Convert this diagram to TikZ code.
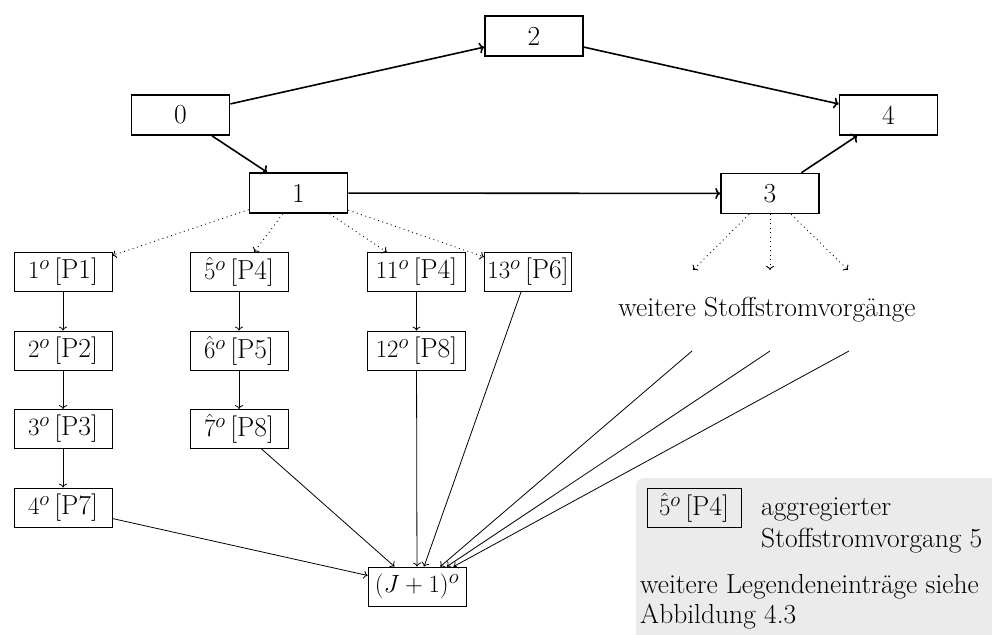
\documentclass[tikz,border=0pt]{standalone}
\usetikzlibrary{arrows.meta}
% label of a partial process: number with superscript o and its process tag
\newcommand\stoff[2]{$#1^{o}$\,[#2]}
\begin{document}
\begin{tikzpicture}[x=1pt,y=-1pt,
  every node/.style={font=\fontsize{27.5}{32}\selectfont},
  vorgang/.style={draw, line width=1.6pt, minimum width=98pt, minimum height=40pt, inner sep=2pt},
  teil/.style={draw, line width=0.8pt, minimum width=98pt, minimum height=39pt, inner sep=3pt},
  fluss/.style={line width=1.6pt, -{To[length=5pt,width=11pt]}},
  zweig/.style={line width=0.8pt, -{To[length=4pt,width=8pt]}},
  punkt/.style={line width=0.9pt, dash pattern=on 0.9pt off 3.6pt, -{To[length=4pt,width=8pt]}},
  legtext/.style={anchor=base west, inner sep=0pt},
]
\useasboundingbox (0,0) rectangle (992,634);

% legend background
\fill[black!8, rounded corners=8pt] (636,478) rectangle (1010,650);

% main processes
\node[vorgang] (n0) at (180.5,115) {0};
\node[vorgang] (n1) at (298.5,193) {1};
\node[vorgang] (n2) at (534,36) {2};
\node[vorgang] (n3) at (770,193.5) {3};
\node[vorgang] (n4) at (888.5,115) {4};

\draw[fluss] (n0) -- (n2);
\draw[fluss] (n0) -- (n1);
\draw[fluss] (n2) -- (n4);
\draw[fluss] (n3) -- (n4);
\draw[fluss] (n1) -- (n3);

% partial processes of process 1
\node[teil] (a1) at (63,272) {\stoff{1}{P1}};
\node[teil] (a2) at (63,350.5) {\stoff{2}{P2}};
\node[teil] (a3) at (63,429) {\stoff{3}{P3}};
\node[teil] (a4) at (63,507.5) {\stoff{4}{P7}};

\node[teil] (b1) at (239,272) {\stoff{\hat{5}}{P4}};
\node[teil] (b2) at (239,350.5) {\stoff{\hat{6}}{P5}};
\node[teil] (b3) at (239,429) {\stoff{\hat{7}}{P8}};

\node[teil] (c1) at (416.5,272) {\stoff{11}{P4}};
\node[teil] (c2) at (416.5,350.5) {\stoff{12}{P8}};

\node[teil, minimum width=0pt, anchor=west] (d1) at (484,272) {\stoff{13}{P6}};

\node[teil] (J) at (417,586.5) {$(J+1)^{o}$};

\draw[punkt] (n1) -- (a1);
\draw[punkt] (n1) -- (b1);
\draw[punkt] (n1) -- (c1);
\draw[punkt] (n1) -- (d1);

\draw[zweig] (a1) -- (a2);
\draw[zweig] (a2) -- (a3);
\draw[zweig] (a3) -- (a4);
\draw[zweig] (b1) -- (b2);
\draw[zweig] (b2) -- (b3);
\draw[zweig] (c1) -- (c2);

\draw[zweig] (a4) -- (J);
\draw[zweig] (b3) -- (J);
\draw[zweig] (c2) -- (J);
\draw[zweig] (d1) -- (J);

% further processes of process 3
\coordinate (s1) at (693,270);
\coordinate (s2) at (770,270);
\coordinate (s3) at (848,270);
\draw[punkt] (n3) -- (s1);
\draw[punkt] (n3) -- (s2);
\draw[punkt] (n3) -- (s3);
\node[anchor=base, inner sep=0pt] (weitere) at (767,316) {weitere Stoffstromvorgänge};

\coordinate (r1) at (692,351);
\coordinate (r2) at (770,351);
\coordinate (r3) at (849,351);
\draw[zweig] (r1) -- (J);
\draw[zweig] (r2) -- (J);
\draw[zweig] (r3) -- (J);

% legend
\node[teil, minimum width=94pt] (leg) at (694,507.5) {\stoff{\hat{5}}{P4}};
\node[legtext] (leg1) at (761,515) {aggregierter};
\node[legtext] (leg2) at (761,547) {Stoffstromvorgang 5};
\node[legtext] (leg3) at (640,593) {weitere Legendeneinträge siehe};
\node[legtext] (leg4) at (640,623) {Abbildung 4.3};
\end{tikzpicture}
\end{document}
